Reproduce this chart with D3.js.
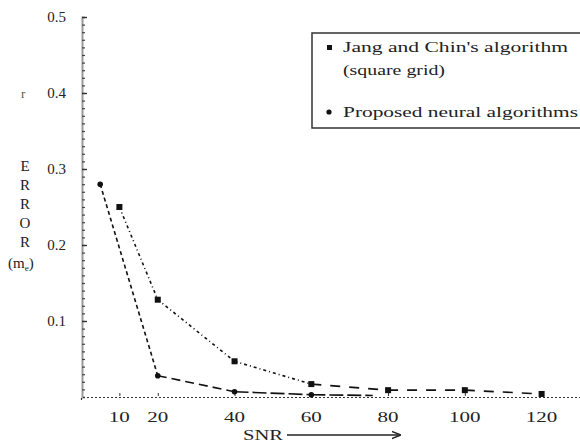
<!DOCTYPE html>
<html><head><meta charset="utf-8">
<script src="https://cdn.jsdelivr.net/npm/d3@7"></script>
<style>html,body{margin:0;padding:0;background:#fff;}svg{display:block;}</style>
</head><body>
<svg id="chart" width="580" height="444"></svg>
<script>
// ---- data ----
const snrA = [10, 20, 40, 60, 80, 100, 120];
const errA = [0.25, 0.128, 0.047, 0.017, 0.009, 0.009, 0.004];
const snrB = [5, 20, 40, 60, 76];
const errB = [0.28, 0.028, 0.007, 0.003, 0.002];
const xTicks = [10, 20, 40, 60, 80, 100, 120];
const yTicks = [0.1, 0.2, 0.3, 0.4, 0.5];
const yTitle = ["E", "R", "R", "O", "R"];
const legendA = ["Jang and Chin's algorithm", "(square grid)"];
const legendB = "Proposed neural algorithms";

// ---- layout ----
const svg = d3.select("#chart");
const x = d3.scaleLinear().domain([0, 130]).range([81, 580]);
const y = d3.scaleLinear().domain([0, 0.5]).range([397, 17]);
const font = "'Liberation Serif', 'DejaVu Serif', serif";
const ink = "#222";

// y axis line with minor ticks
const gy = svg.append("g").attr("transform", "translate(82,0)")
  .call(d3.axisRight(y).tickValues(d3.range(0.01, 0.5, 0.01)).tickSize(3).tickFormat(""));
gy.select(".domain").attr("stroke", "#999").attr("stroke-width", 2);
gy.selectAll(".tick line").attr("stroke", "#444").attr("stroke-width", 1.2);
const gyMaj = svg.append("g").attr("transform", "translate(82,0)")
  .call(d3.axisRight(y).tickValues(yTicks).tickSize(5).tickFormat(""));
gyMaj.select(".domain").remove();
gyMaj.selectAll(".tick line").attr("stroke", "#333").attr("stroke-width", 1.4);
svg.append("g").selectAll("text").data(yTicks).join("text")
  .attr("x", 66).attr("y", d => y(d) + 5).attr("text-anchor", "end")
  .attr("font-family", font).attr("font-size", 15).attr("fill", ink)
  .text(d => d.toFixed(1));

// x axis (dotted baseline)
const gx = svg.append("g").attr("transform", "translate(0,397)")
  .call(d3.axisBottom(x).tickValues(xTicks).tickSize(3).tickFormat(""));
gx.select(".domain").attr("stroke", "#333").attr("stroke-dasharray", "2,2").attr("stroke-width", 1.2);
gx.selectAll(".tick line").attr("stroke", "#333").attr("transform", "translate(0,-4)");
svg.append("g").selectAll("text").data(xTicks).join("text")
  .attr("x", d => x(d)).attr("y", 422).attr("text-anchor", "middle")
  .attr("font-family", font).attr("font-size", 15).attr("fill", ink)
  .attr("textLength", d => String(d).length * 10.5).attr("lengthAdjust", "spacingAndGlyphs")
  .text(d => d);

// SNR label with arrow
svg.append("text").attr("x", 243).attr("y", 440).attr("font-family", font)
  .attr("font-size", 15).attr("fill", ink).attr("textLength", 40).attr("lengthAdjust", "spacingAndGlyphs").text("SNR");
svg.append("defs").append("marker").attr("id", "arr").attr("viewBox", "0 0 10 10")
  .attr("refX", 9).attr("refY", 5).attr("markerWidth", 7).attr("markerHeight", 7).attr("orient", "auto")
  .append("path").attr("d", "M0,1 L10,5 L0,9").attr("fill", "none").attr("stroke", ink).attr("stroke-width", 1.5);
svg.append("line").attr("x1", 287).attr("x2", 400).attr("y1", 435).attr("y2", 435)
  .attr("stroke", ink).attr("stroke-width", 1.3).attr("marker-end", "url(#arr)");

// y title
svg.append("g").selectAll("text").data(yTitle).join("text")
  .attr("x", 25).attr("y", (d, i) => 171 + i * 19).attr("text-anchor", "middle")
  .attr("font-family", font).attr("font-size", 15).attr("fill", ink).text(d => d);
const mt = svg.append("text").attr("x", 8).attr("y", 268).attr("font-family", font)
  .attr("font-size", 15).attr("fill", ink);
mt.append("tspan").text("(m");
mt.append("tspan").attr("font-size", 9).attr("dy", 3).text("e");
mt.append("tspan").attr("dy", -3).text(")");
svg.append("text").attr("x", 21).attr("y", 98).attr("font-family", font)
  .attr("font-size", 13).attr("fill", "#555").text("r");

// series
const line = d3.line().x(d => x(d[0])).y(d => y(d[1]));
const dataA = snrA.map((s, i) => [s, errA[i]]);
const dataB = snrB.map((s, i) => [s, errB[i]]);
const dashA = ["3,3,1,3", "3,3,1,3", "3,3,1,3", "10,9", "10,9", "10,9"];
const dashB = ["4,3", "9,5", "14,4", "14,4"];
function segs(data, dashes) {
  svg.append("g").selectAll("path").data(d3.pairs(data)).join("path")
    .attr("d", d => line(d)).attr("fill", "none").attr("stroke", "#111")
    .attr("stroke-width", 1.6).attr("stroke-dasharray", (d, i) => dashes[i]);
}
segs(dataA, dashA);
segs(dataB, dashB);
svg.append("g").selectAll("rect").data(dataA).join("rect")
  .attr("x", d => x(d[0]) - 3).attr("y", d => y(d[1]) - 3).attr("width", 6).attr("height", 6).attr("fill", "#111");
svg.append("g").selectAll("circle").data(dataB.slice(0, 4)).join("circle")
  .attr("cx", d => x(d[0])).attr("cy", d => y(d[1])).attr("r", 2.8).attr("fill", "#111");

// legend
svg.append("rect").attr("x", 312).attr("y", 33).attr("width", 280).attr("height", 95)
  .attr("fill", "none").attr("stroke", "#333").attr("stroke-width", 1.5);
svg.append("rect").attr("x", 327).attr("y", 45).attr("width", 5).attr("height", 5).attr("fill", "#111");
svg.append("circle").attr("cx", 329).attr("cy", 112).attr("r", 2.6).attr("fill", "#111");
const lt = [[legendA[0], 52, 225], [legendA[1], 75, 102], [legendB, 117, 235]];
svg.append("g").selectAll("text").data(lt).join("text")
  .attr("x", 343).attr("y", d => d[1]).attr("font-family", font).attr("font-size", 15)
  .attr("fill", ink).attr("textLength", d => d[2]).attr("lengthAdjust", "spacingAndGlyphs")
  .text(d => d[0]);
</script>
</body></html>
